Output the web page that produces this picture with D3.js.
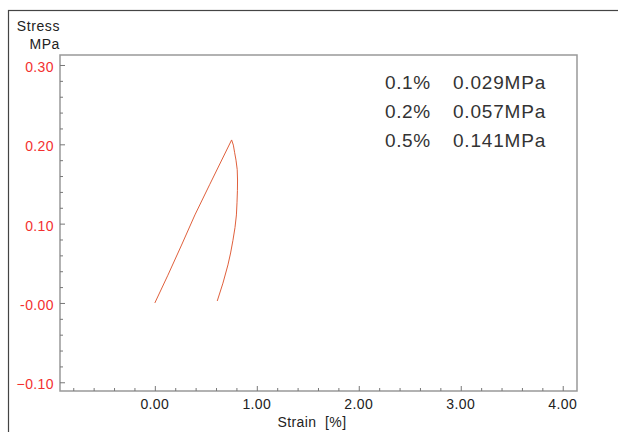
<!DOCTYPE html>
<html lang="en">
<head>
  <meta charset="utf-8">
  <title>Stress Strain</title>
  <script src="https://cdn.jsdelivr.net/npm/d3@7"></script>
  <style>
    body { margin: 0; background: #fff; }
    text { font-family: "Liberation Sans", Arial, sans-serif; }
  </style>
</head>
<body>
  <svg id="chart"></svg>
  <script>
    // curve: strain [%] and stress [MPa]
    var strain = [0, 0.128, 0.262, 0.393, 0.537, 0.753, 0.770, 0.782, 0.796, 0.808, 0.811, 0.810, 0.806, 0.800, 0.786, 0.766, 0.743, 0.717, 0.668, 0.612];
    var stress = [0, 0.035, 0.073, 0.111, 0.149, 0.2055, 0.199, 0.190, 0.180, 0.168, 0.155, 0.142, 0.127, 0.111, 0.095, 0.079, 0.063, 0.048, 0.025, 0.0025];

    var xTicks = [0, 1, 2, 3, 4];
    var yTicks = [-0.1, 0, 0.1, 0.2, 0.3];
    var notePct = ["0.1%", "0.2%", "0.5%"];
    var noteVal = ["0.029MPa", "0.057MPa", "0.141MPa"];

    var w = 618, h = 432;
    var pLeft = 60, pRight = 577, pTop = 55, pBottom = 391;

    var svg = d3.select("#chart").attr("width", w).attr("height", h);

    // outer frame
    svg.append("rect")
      .attr("x", 8.5).attr("y", 10.5)
      .attr("width", 700).attr("height", 500)
      .attr("fill", "none").attr("stroke", "#444").attr("stroke-width", 1.2);

    var x = d3.scaleLinear().domain([-0.93, 4.14]).range([pLeft, pRight]);
    var y = d3.scaleLinear().domain([-0.111, 0.3126]).range([pBottom, pTop]);

    // plot frame
    svg.append("rect")
      .attr("x", pLeft).attr("y", pTop)
      .attr("width", pRight - pLeft).attr("height", pBottom - pTop)
      .attr("fill", "none").attr("stroke", "#999").attr("stroke-width", 1.5);

    // x axis, ticks inward
    var xMinor = d3.range(-0.8, 4.01, 0.2).filter(function(v) {
      return Math.abs(v - Math.round(v)) > 0.01;
    });
    svg.append("g")
      .attr("transform", "translate(0," + pBottom + ")")
      .call(d3.axisTop(x).tickValues(xMinor).tickSize(3).tickFormat(""))
      .call(function(g) { g.select(".domain").remove(); })
      .selectAll("line").attr("stroke", "#777");
    var gx = svg.append("g")
      .attr("transform", "translate(0," + pBottom + ")")
      .call(d3.axisTop(x).tickValues(xTicks).tickSize(5).tickFormat(""));
    gx.select(".domain").remove();
    gx.selectAll("line").attr("stroke", "#777");
    svg.append("g").selectAll("text")
      .data(xTicks).enter().append("text")
      .attr("x", function(d) { return x(d); })
      .attr("y", 409)
      .attr("text-anchor", "middle")
      .style("font-size", "14px").style("letter-spacing", "0.4px")
      .attr("fill", "#222")
      .text(function(d) { return d3.format(".2f")(d); });

    // y axis, ticks inward
    var yMinor = d3.range(-0.1, 0.301, 0.02).filter(function(v) {
      return Math.abs(v * 10 - Math.round(v * 10)) > 0.01;
    });
    svg.append("g")
      .attr("transform", "translate(" + pLeft + ",0)")
      .call(d3.axisRight(y).tickValues(yMinor).tickSize(3).tickFormat(""))
      .call(function(g) { g.select(".domain").remove(); })
      .selectAll("line").attr("stroke", "#777");
    var gy = svg.append("g")
      .attr("transform", "translate(" + pLeft + ",0)")
      .call(d3.axisRight(y).tickValues(yTicks).tickSize(5).tickFormat(""));
    gy.select(".domain").remove();
    gy.selectAll("line").attr("stroke", "#777");
    svg.append("g").selectAll("text")
      .data(yTicks).enter().append("text")
      .attr("x", 54)
      .attr("y", function(d) { return y(d) + 7; })
      .attr("text-anchor", "end")
      .style("font-size", "14px").style("letter-spacing", "0.4px")
      .attr("fill", "#f33030")
      .text(function(d) { return (d === 0 ? "-" : "") + d3.format(".2f")(d); });

    // axis titles
    svg.append("text").attr("x", 60).attr("y", 31)
      .attr("text-anchor", "end").style("font-size", "14px").style("letter-spacing", "0.6px")
      .attr("fill", "#222").text("Stress");
    svg.append("text").attr("x", 60).attr("y", 49)
      .attr("text-anchor", "end").style("font-size", "14px").style("letter-spacing", "0.6px")
      .attr("fill", "#222").text("MPa");
    svg.append("text").attr("x", 312).attr("y", 427)
      .attr("text-anchor", "middle").style("font-size", "14px").style("letter-spacing", "0.4px")
      .attr("fill", "#222").attr("xml:space", "preserve").text("Strain  [%]");

    // curve
    var line = d3.line()
      .x(function(d, i) { return x(strain[i]); })
      .y(function(d, i) { return y(stress[i]); });
    svg.append("path")
      .datum(strain)
      .attr("d", line)
      .attr("fill", "none")
      .attr("stroke", "#e0603c")
      .attr("stroke-width", 1);

    // notes
    var notes = svg.append("g");
    notes.selectAll(".pct").data(notePct).enter().append("text")
      .attr("x", 385).attr("y", function(d, i) { return 89 + i * 29; })
      .style("font-size", "19px").style("letter-spacing", "0.6px")
      .attr("fill", "#333").text(function(d) { return d; });
    notes.selectAll(".val").data(noteVal).enter().append("text")
      .attr("x", 453).attr("y", function(d, i) { return 89 + i * 29; })
      .style("font-size", "19px").style("letter-spacing", "0.8px")
      .attr("fill", "#333").text(function(d) { return d; });
  </script>
</body>
</html>
